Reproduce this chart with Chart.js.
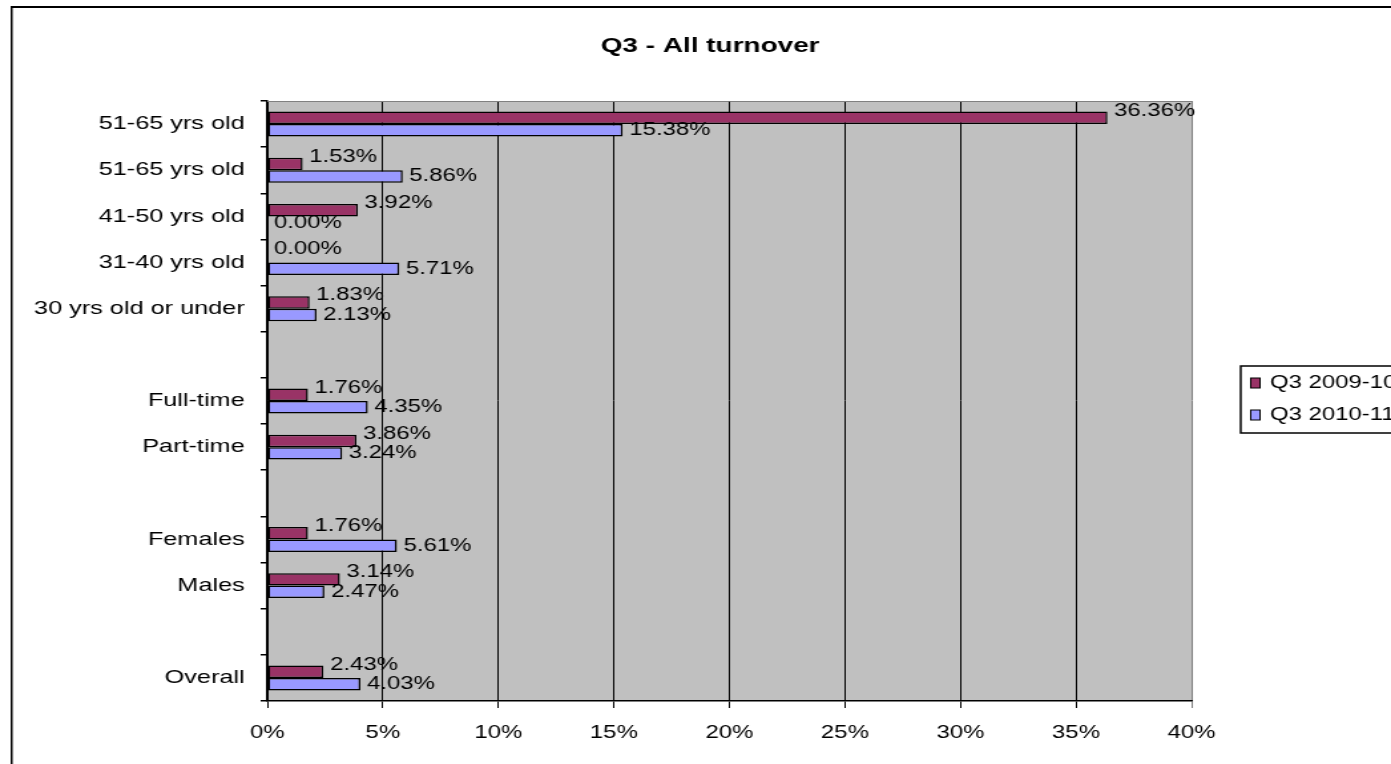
<!DOCTYPE html>
<html lang="en">
<head>
<meta charset="UTF-8">
<title>Q3 - All turnover</title>
<script src="https://cdn.jsdelivr.net/npm/chart.js"></script>
<style>
  body { margin: 0; background: #fff; overflow: hidden; }
</style>
</head>
<body>
<!-- the original picture is stretched sideways, so draw narrow and stretch -->
<canvas id="chart" width="1046" height="764" style="display:block;width:1391px;height:764px"></canvas>
<script>
const categories = [
  '51-65 yrs old', '51-65 yrs old', '41-50 yrs old', '31-40 yrs old', '30 yrs old or under',
  '', 'Full-time', 'Part-time', '', 'Females', 'Males', '', 'Overall'
];
const seriesNames = ['Q3 2009-10', 'Q3 2010-11'];
const q3_0910 = [36.36, 1.53, 3.92, 0.00, 1.83, null, 1.76, 3.86, null, 1.76, 3.14, null, 2.43];
const q3_1011 = [15.38, 5.86, 0.00, 5.71, 2.13, null, 4.35, 3.24, null, 5.61, 2.47, null, 4.03];
const xTickValues = [0, 5, 10, 15, 20, 25, 30, 35, 40];

const FONT = '"Liberation Sans", Arial, sans-serif';

const excelLook = {
  id: 'excelLook',
  beforeDraw(chart) {
    const { ctx, chartArea: a } = chart;
    ctx.save();
    ctx.fillStyle = '#fff';
    ctx.fillRect(0, 0, chart.width, chart.height);
    // outer chart border (runs off the right and bottom)
    ctx.fillStyle = '#000';
    ctx.fillRect(8, 6, 1.5, chart.height);
    ctx.fillRect(8, 6, chart.width, 2);
    // plot area
    ctx.fillStyle = '#c0c0c0';
    ctx.fillRect(a.left, a.top, a.right - a.left, a.bottom - a.top);
    // title
    ctx.fillStyle = '#000';
    ctx.font = 'bold 21px ' + FONT;
    ctx.textAlign = 'center';
    ctx.textBaseline = 'middle';
    ctx.fillText('Q3 - All turnover', 534, 46);
    ctx.restore();
  },
  beforeDatasetsDraw(chart) {
    const { ctx, chartArea: a } = chart;
    ctx.save();
    ctx.strokeStyle = '#808080';
    ctx.lineWidth = 1;
    ctx.beginPath();
    ctx.moveTo(a.left, a.top + 0.5);
    ctx.lineTo(a.right, a.top + 0.5);
    ctx.stroke();
    ctx.restore();
  },
  afterDatasetsDraw(chart) {
    const { ctx } = chart;
    ctx.save();
    ctx.fillStyle = '#000';
    ctx.font = '18px ' + FONT;
    ctx.textAlign = 'left';
    ctx.textBaseline = 'middle';
    chart.data.datasets.forEach((ds, di) => {
      const meta = chart.getDatasetMeta(di);
      meta.data.forEach((bar, i) => {
        const v = ds.data[i];
        if (v === null || v === undefined) return;
        const dy = di === 0 ? -7 : 0;
        ctx.fillText(v.toFixed(2) + '%', bar.x + 5, bar.y + dy);
      });
    });
    ctx.restore();
  },
  afterDraw(chart) {
    const { ctx } = chart;
    ctx.save();
    ctx.strokeStyle = '#000';
    ctx.lineWidth = 1.5;
    ctx.strokeRect(933, 366, 200, 67);
    ctx.font = '18px ' + FONT;
    ctx.textAlign = 'left';
    ctx.textBaseline = 'middle';
    chart.data.datasets.forEach((ds, i) => {
      const y = 383 + i * 32;
      ctx.fillStyle = ds.backgroundColor;
      ctx.fillRect(940.5, y - 5, 7, 10);
      ctx.lineWidth = 1;
      ctx.strokeRect(940.5, y - 5, 7, 10);
      ctx.fillStyle = '#000';
      ctx.fillText(ds.label, 955, y);
    });
    ctx.restore();
  }
};

new Chart(document.getElementById('chart'), {
  type: 'bar',
  data: {
    labels: categories,
    datasets: [
      { label: seriesNames[0], data: q3_0910, backgroundColor: '#993366' },
      { label: seriesNames[1], data: q3_1011, backgroundColor: '#9999ff' }
    ]
  },
  options: {
    indexAxis: 'y',
    responsive: false,
    devicePixelRatio: 1,
    animation: false,
    layout: { padding: { left: 0, top: 101, right: 150, bottom: 0 } },
    datasets: {
      bar: {
        borderColor: '#000',
        borderWidth: 1.5,
        borderSkipped: false,
        categoryPercentage: 0.54,
        barPercentage: 1
      }
    },
    plugins: {
      legend: { display: false },
      title: { display: false },
      tooltip: { enabled: false }
    },
    scales: {
      x: {
        type: 'linear',
        min: 0,
        max: 40,
        afterBuildTicks: s => { s.ticks = xTickValues.map(v => ({ value: v })); },
        afterFit: s => { s.height = 63; },
        grid: {
          color: c => (c.tick && c.tick.value === 40 ? '#808080' : '#000'),
          lineWidth: 1,
          tickLength: 7,
          drawOnChartArea: true
        },
        border: { color: '#000', width: 1.5 },
        ticks: {
          color: '#000',
          font: { family: FONT, size: 18 },
          padding: 14,
          callback: v => v + '%'
        }
      },
      y: {
        afterFit: s => { s.width = 201; },
        grid: {
          offset: true,
          drawOnChartArea: false,
          color: '#000',
          lineWidth: 1.5,
          tickLength: 5
        },
        border: { color: '#000', width: 1.5 },
        ticks: {
          color: '#000',
          font: { family: FONT, size: 19 },
          padding: 12,
          autoSkip: false
        }
      }
    }
  },
  plugins: [excelLook]
});
</script>
</body>
</html>
